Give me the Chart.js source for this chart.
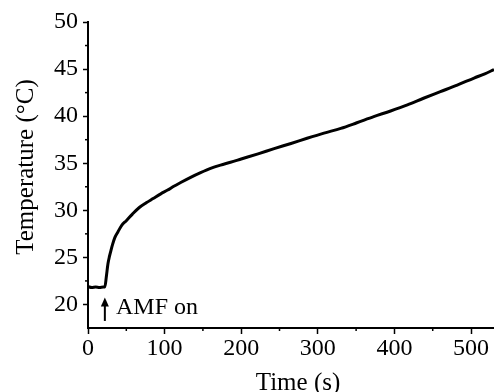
<!DOCTYPE html>
<html>
<head>
<meta charset="utf-8">
<script src="https://cdn.jsdelivr.net/npm/chart.js@4"></script>
<style>
  html, body { margin: 0; padding: 0; background: #fff; }
  #wrap { width: 494px; height: 392px; }
</style>
</head>
<body>
<div id="wrap"><canvas id="temp_chart"></canvas></div>
<script>
// time (s) and temperature (°C)
var time_s = [0, 5, 10, 15, 20, 22, 24, 26, 28, 30, 32, 35, 39, 44, 50, 58, 67, 76, 85, 95, 104,
    112, 121, 134, 147, 160, 173, 186, 200, 222, 243, 265, 286, 308, 330, 351, 373, 395, 417, 438, 460, 482, 504, 518, 530];
var temp_c = [21.9, 21.8, 21.85, 21.8, 21.85, 21.85, 23.0, 24.3, 25.1, 25.75, 26.35, 27.1, 27.7, 28.4, 28.9,
    29.6, 30.3, 30.8, 31.25, 31.75, 32.15, 32.55, 32.95, 33.5, 34.0, 34.45, 34.8, 35.1, 35.45, 36.0, 36.55, 37.1, 37.65, 38.2, 38.7,
    39.3, 39.95, 40.55, 41.2, 41.9, 42.6, 43.3, 44.05, 44.5, 44.95];
var x_ticks = [0, 100, 200, 300, 400, 500];
var y_ticks = [20, 25, 30, 35, 40, 45, 50];

var x_title = 'Time (s)';
var y_title = 'Temperature (°C)';

// arrow + label marking when the field is switched on
var amf_time = 22;
var amf_label = 'AMF on';

var serif = "'Liberation Serif', 'Times New Roman', Times, serif";

var points = time_s.map(function (t, i) { return { x: t, y: temp_c[i] }; });

// minor ticks, axis titles and annotation
var extras = {
    id: 'extras',
    afterDraw: function (chart) {
        var ctx = chart.ctx;
        var xs = chart.scales.x, ys = chart.scales.y;
        var area = chart.chartArea;
        ctx.save();
        ctx.strokeStyle = '#000';
        ctx.lineWidth = 1.5;
        for (var v = 50; v < xs.max; v += 100) {
            var px = xs.getPixelForValue(v);
            ctx.beginPath();
            ctx.moveTo(px, area.bottom);
            ctx.lineTo(px, area.bottom + 3);
            ctx.stroke();
        }
        for (var w = 22.5; w < ys.max; w += 5) {
            var py = ys.getPixelForValue(w);
            ctx.beginPath();
            ctx.moveTo(area.left, py);
            ctx.lineTo(area.left - 3, py);
            ctx.stroke();
        }

        // arrow
        var ax = xs.getPixelForValue(amf_time);
        var yTop = ys.getPixelForValue(20.75);
        var yBot = ys.getPixelForValue(18.25);
        ctx.lineWidth = 2;
        ctx.beginPath();
        ctx.moveTo(ax, yBot);
        ctx.lineTo(ax, yTop + 6);
        ctx.stroke();
        ctx.fillStyle = '#000';
        ctx.beginPath();
        ctx.moveTo(ax, yTop);
        ctx.lineTo(ax - 4, yTop + 9);
        ctx.lineTo(ax + 4, yTop + 9);
        ctx.closePath();
        ctx.fill();

        ctx.font = '24px ' + serif;
        ctx.textBaseline = 'alphabetic';
        ctx.textAlign = 'left';
        ctx.fillText(amf_label, xs.getPixelForValue(36.5), ys.getPixelForValue(19.0));

        // axis titles
        ctx.font = '25px ' + serif;
        ctx.textAlign = 'center';
        ctx.fillText(x_title, 298, 390);
        ctx.translate(33, 167);
        ctx.rotate(-Math.PI / 2);
        ctx.fillText(y_title, 0, 0);
        ctx.restore();
    }
};

var temp_chart = new Chart(document.getElementById('temp_chart'), {
    type: 'line',
    data: {
        datasets: [
            {
                label: 'Temperature',
                data: points,
                borderColor: '#000',
                borderWidth: 3,
                pointRadius: 0,
                cubicInterpolationMode: 'monotone',
                fill: false
            }
        ]
    },
    options: {
        responsive: true,
        maintainAspectRatio: false,
        animation: false,
        layout: { padding: { top: 22, right: 0, left: 0, bottom: 0 } },
        scales: {
            x: {
                type: 'linear',
                min: 0,
                max: 530,
                afterFit: function (s) { s.height = 64; },
                afterBuildTicks: function (s) { s.ticks = x_ticks.map(function (v) { return { value: v }; }); },
                border: { display: true, color: '#000', width: 2 },
                grid: { drawOnChartArea: false, drawTicks: true, tickLength: 6, tickColor: '#000', tickWidth: 1.5 },
                ticks: { color: '#000', padding: 0, maxRotation: 0, font: { family: serif, size: 24 } },
                title: { display: false }
            },
            y: {
                min: 17.5,
                max: 50,
                afterFit: function (s) { s.width = 88; },
                afterBuildTicks: function (s) { s.ticks = y_ticks.map(function (v) { return { value: v }; }); },
                border: { display: true, color: '#000', width: 2 },
                grid: { drawOnChartArea: false, drawTicks: true, tickLength: 5, tickColor: '#000', tickWidth: 1.5 },
                ticks: { color: '#000', padding: 5, font: { family: serif, size: 24 } },
                title: { display: false }
            }
        },
        plugins: {
            legend: { display: false },
            tooltip: { enabled: false }
        }
    },
    plugins: [extras]
});
</script>
</body>
</html>
